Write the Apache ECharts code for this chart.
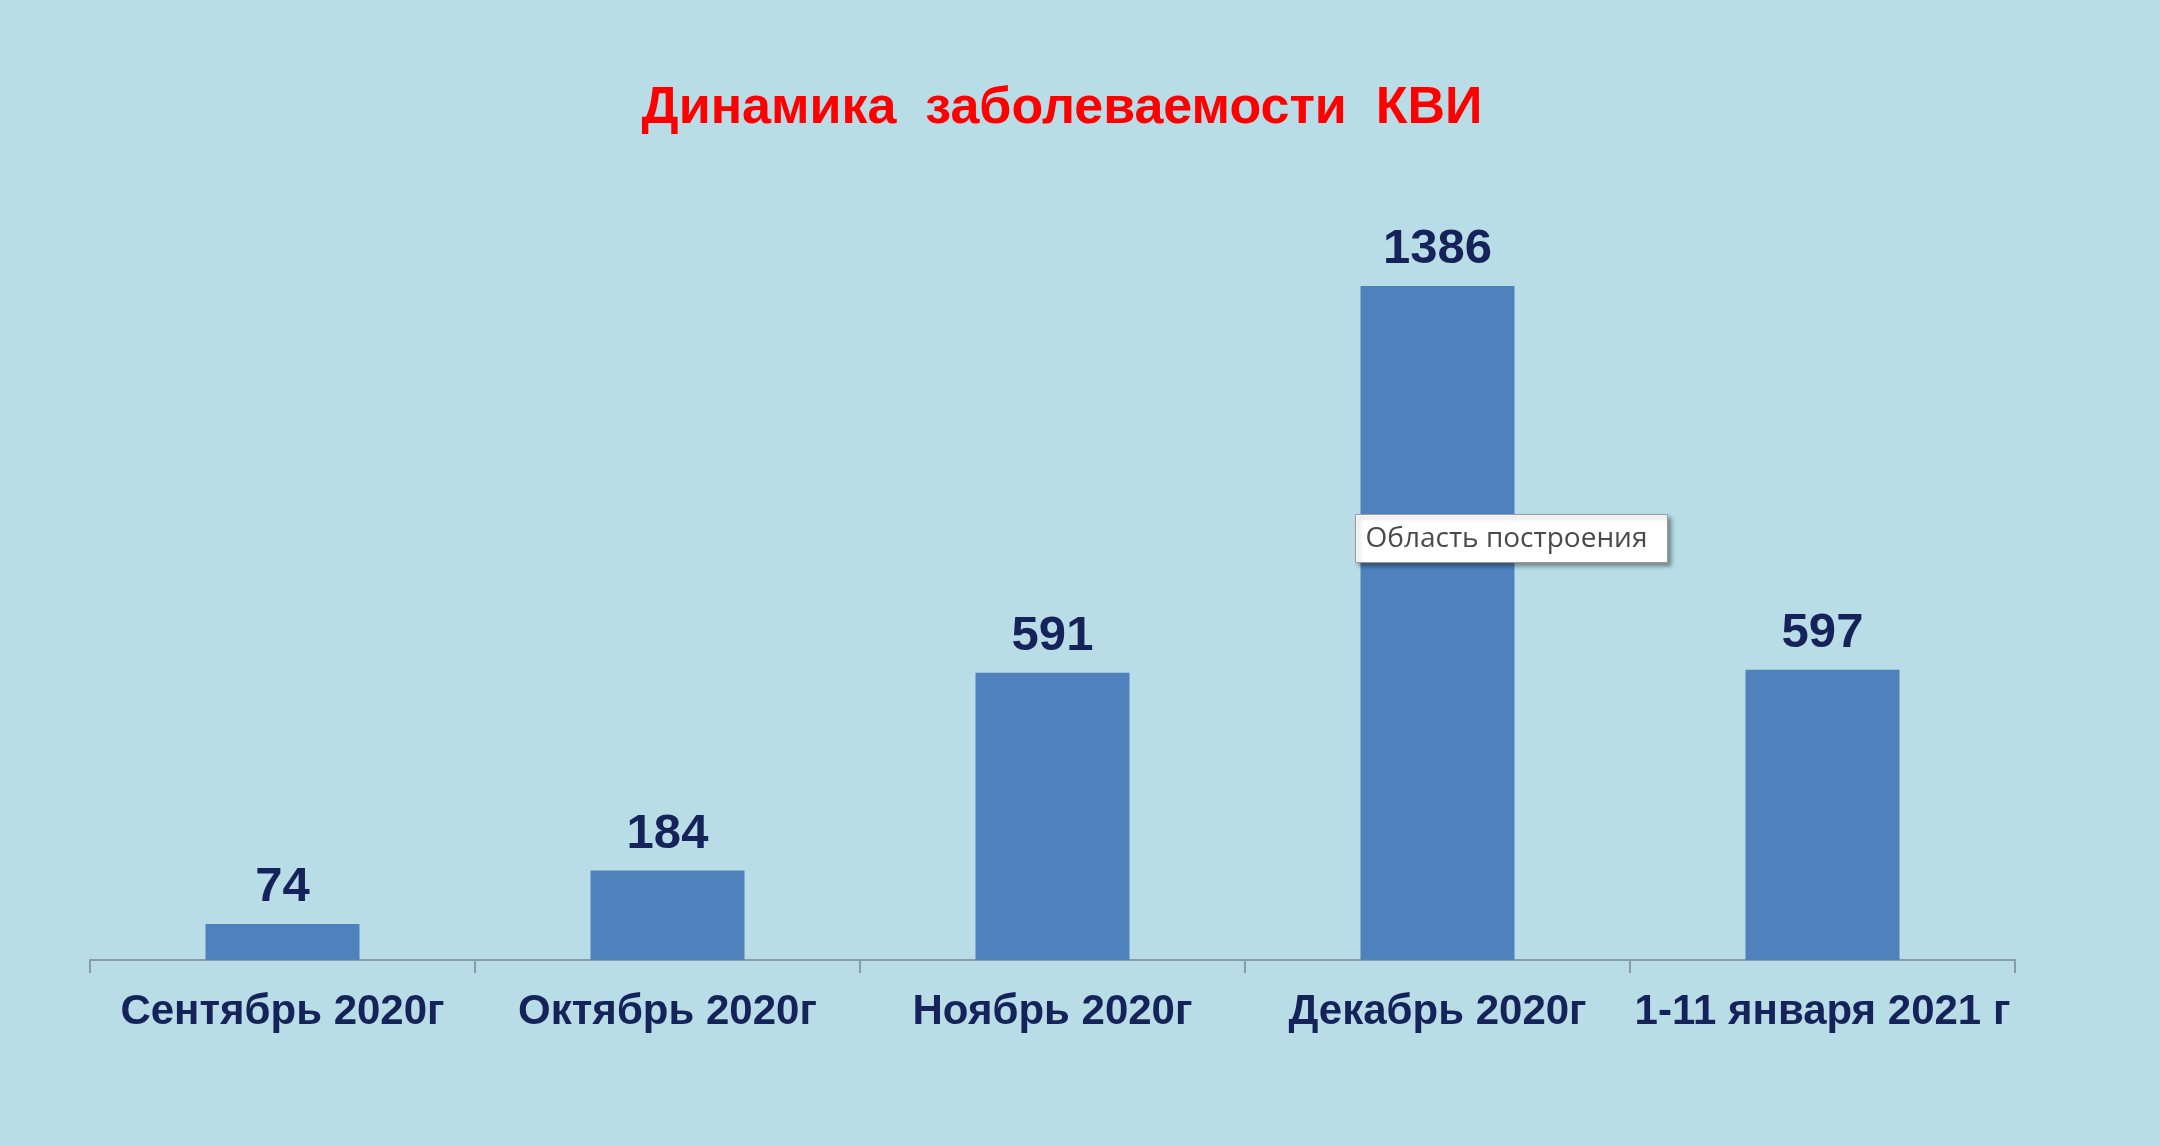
<!DOCTYPE html>
<html>
<head>
<meta charset="utf-8">
<title>Динамика заболеваемости КВИ</title>
<script src="https://cdn.jsdelivr.net/npm/echarts@6/dist/echarts.min.js"></script>
<style>
  html, body { margin: 0; padding: 0; background: #b8dde7; }
  #main { width: 2160px; height: 1145px; }
</style>
</head>
<body>
<div id="main"></div>
<script>
// данные с графика
var months = ['Сентябрь 2020г', 'Октябрь 2020г', 'Ноябрь 2020г', 'Декабрь 2020г', '1-11 января 2021 г'];
var cases = [74, 184, 591, 1386, 597];

var myChart = echarts.init(document.getElementById('main'));

var option = {
    backgroundColor: '#b8dde7',
    title: {
        text: 'Динамика  заболеваемости  КВИ',
        left: 1057,
        textAlign: 'center',
        top: 78,
        textStyle: {
            color: '#ff0000',
            fontFamily: 'Liberation Sans, Arial, sans-serif',
            fontWeight: 'bold',
            fontSize: 52
        }
    },
    grid: {
        left: 90,
        right: 145,
        top: 182,
        bottom: 185
    },
    xAxis: {
        type: 'category',
        data: months,
        axisLine: { show: true, lineStyle: { color: '#8c9ca4', width: 2 } },
        axisTick: { show: true, interval: 0, length: 13, lineStyle: { color: '#8c9ca4', width: 2 } },
        axisLabel: {
            interval: 0,
            color: '#16235a',
            fontFamily: 'Liberation Sans, Arial, sans-serif',
            fontWeight: 'bold',
            fontSize: 42,
            margin: 31
        }
    },
    yAxis: {
        type: 'value',
        min: 0,
        max: 1600,
        show: false,
        splitLine: { show: false }
    },
    series: [{
        type: 'bar',
        data: cases,
        barWidth: '40%',
        itemStyle: { color: '#4f81bd' },
        label: {
            show: true,
            position: 'top',
            distance: 12,
            color: '#16235a',
            fontFamily: 'Liberation Sans, Arial, sans-serif',
            fontWeight: 'bold',
            fontSize: 49
        }
    }],
    // подсказка "Область построения" как на скриншоте
    graphic: [{
        type: 'group',
        left: 1355,
        top: 514,
        z: 100,
        children: [{
            type: 'rect',
            z: 100,
            shape: { x: 0, y: 0, width: 312, height: 48 },
            style: {
                fill: '#ffffff',
                stroke: '#9a9a9a',
                lineWidth: 1,
                shadowBlur: 4,
                shadowOffsetX: 3,
                shadowOffsetY: 3,
                shadowColor: 'rgba(0,0,0,0.35)'
            }
        }, {
            type: 'text',
            z: 101,
            x: 10,
            y: 25,
            style: {
                text: 'Область построения',
                fill: '#4a4a4a',
                font: '28px "Open Sans", "Noto Sans", sans-serif',
                verticalAlign: 'middle'
            }
        }]
    }]
};

myChart.setOption(option);
</script>
</body>
</html>
